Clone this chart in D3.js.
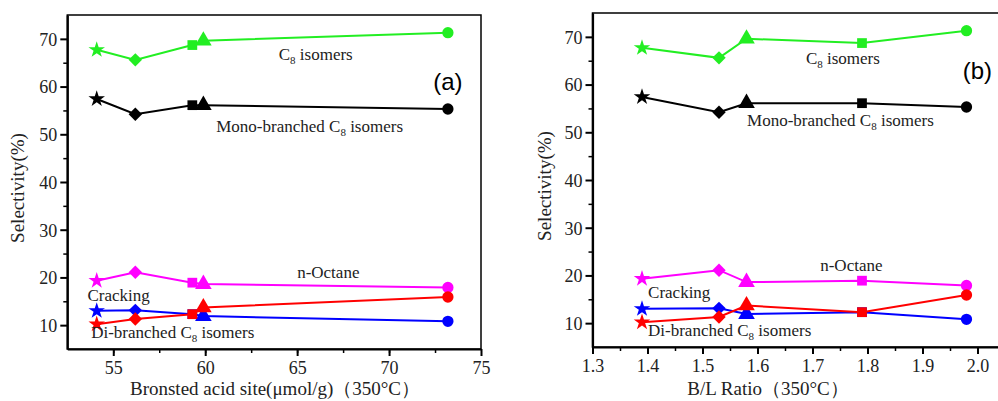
<!DOCTYPE html>
<html>
<head>
<meta charset="utf-8">
<script src="https://cdn.jsdelivr.net/npm/d3@7"></script>
<style>
  body { margin: 0; background: #fff; }
  svg { display: block; }
  svg text { font-family: "Liberation Serif", Tinos, "Times New Roman", "DejaVu Serif", serif; fill: #222; }
  svg text.panel-tag { font-family: "Liberation Sans", Arial, sans-serif; fill: #000; }
</style>
</head>
<body>
<div id="chart"></div>
<script>
// sample order: star, diamond, square, triangle, circle
const samples   = ["star", "diamond", "square", "triangle", "circle"];
const brønsted  = [54.1, 56.2, 59.3, 59.9, 73.2];   // panel (a) x
const blRatio   = [1.39, 1.53, 1.79, 1.58, 1.98];   // panel (b) x

const c8Isomers   = [67.7, 65.6, 68.7, 69.6, 71.3];
const monoBranch  = [57.4, 54.2, 56.1, 56.1, 55.3];
const nOctane     = [19.3, 21.1, 18.9, 18.6, 17.9];
const cracking    = [13.0, 13.1, 12.3, 11.9, 10.8];
const diBranch    = [10.2, 11.3, 12.3, 13.7, 15.9];

const seriesNames  = ["C8 isomers", "Mono-branched", "n-Octane", "Cracking", "Di-branched"];
const seriesValues = [c8Isomers, monoBranch, nOctane, cracking, diBranch];
const seriesColors = ["#22ee22", "#000000", "#ff00ff", "#0000ff", "#ff0000"];

const yTicks  = [10, 20, 30, 40, 50, 60, 70];
const xTicksA = [55, 60, 65, 70, 75];
const xTicksB = [1.3, 1.4, 1.5, 1.6, 1.7, 1.8, 1.9, 2.0];

// label text in data units: [x, y, main, sub, rest]
const labelsA = [
  [64.0, 65.6, "C", "8", " isomers"],
  [60.6, 50.5, "Mono-branched C", "8", " isomers"],
  [65.0, 19.9, "n-Octane", "", ""],
  [53.6, 15.1, "Cracking", "", ""],
  [53.8, 7.3, "Di-branched C", "8", " isomers"]
];
const labelsB = [
  [1.688, 64.3, "C", "8", " isomers"],
  [1.581, 51.3, "Mono-branched C", "8", " isomers"],
  [1.714, 20.9, "n-Octane", "", ""],
  [1.401, 15.3, "Cracking", "", ""],
  [1.401, 7.3, "Di-branched C", "8", " isomers"]
];

const W = 998, H = 401;
const svg = d3.select("#chart").append("svg").attr("width", W).attr("height", H);

const symbolFor = {
  star: d3.symbol().type(d3.symbolStar).size(85),
  diamond: d3.symbol().type(d3.symbolSquare).size(90),
  square: d3.symbol().type(d3.symbolSquare).size(95),
  triangle: d3.symbol().type(d3.symbolTriangle).size(120),
  circle: d3.symbol().type(d3.symbolCircle).size(100)
};

function drawPanel(opt) {
  const x = d3.scaleLinear().domain(opt.xDomain).range(opt.xRange);
  const y = d3.scaleLinear().domain([5, 75]).range(opt.yRange);
  const g = svg.append("g");

  // frame: top and right thinner
  g.append("rect")
    .attr("x", opt.xRange[0]).attr("y", opt.yRange[1])
    .attr("width", opt.xRange[1] - opt.xRange[0])
    .attr("height", opt.yRange[0] - opt.yRange[1])
    .attr("fill", "none").attr("stroke", "#000").attr("stroke-width", 1.5);

  // minor ticks
  const xMinor = opt.xMinor.filter(v => v > opt.xDomain[0] && v < opt.xDomain[1]);
  g.append("g")
    .attr("transform", `translate(0,${opt.yRange[0]})`)
    .call(d3.axisBottom(x).tickValues(xMinor).tickSize(4).tickFormat(""))
    .call(a => a.select(".domain").remove())
    .selectAll("line").attr("stroke-width", 1.5);
  g.append("g")
    .attr("transform", `translate(${opt.xRange[0]},0)`)
    .call(d3.axisLeft(y).tickValues([15, 25, 35, 45, 55, 65]).tickSize(4).tickFormat(""))
    .call(a => a.select(".domain").remove())
    .selectAll("line").attr("stroke-width", 1.5);

  // major axes
  const xa = g.append("g")
    .attr("transform", `translate(0,${opt.yRange[0]})`)
    .call(d3.axisBottom(x).tickValues(opt.xTicks).tickSize(7).tickSizeOuter(0)
      .tickFormat(opt.xFormat));
  xa.attr("font-family", null).attr("font-size", null);
  xa.select(".domain").attr("stroke-width", 2.2);
  xa.selectAll(".tick line").attr("stroke-width", 2);
  xa.selectAll(".tick text").attr("font-size", 18).attr("fill", "#222").attr("dy", "0.85em");

  const ya = g.append("g")
    .attr("transform", `translate(${opt.xRange[0]},0)`)
    .call(d3.axisLeft(y).tickValues(yTicks).tickSize(7).tickSizeOuter(0));
  ya.attr("font-family", null).attr("font-size", null);
  ya.select(".domain").attr("stroke-width", 2.2);
  ya.selectAll(".tick line").attr("stroke-width", 2);
  ya.selectAll(".tick text").attr("font-size", 18).attr("fill", "#222")
    .attr("x", -10).attr("dy", "0.35em");

  // series
  const line = d3.line().x(d => x(d[0])).y(d => y(d[1]));
  seriesValues.forEach((vals, si) => {
    const pts = opt.xs.map((xv, i) => [xv, vals[i], samples[i]]);
    const sorted = pts.slice().sort((a, b) => a[0] - b[0]);
    g.append("path").attr("d", line(sorted))
      .attr("fill", "none").attr("stroke", seriesColors[si]).attr("stroke-width", 2);
    g.selectAll(null).data(pts).enter().append("path")
      .attr("d", d => symbolFor[d[2]]())
      .attr("transform", d => `translate(${x(d[0])},${y(d[1])})` + (d[2] === "diamond" ? " rotate(45)" : ""))
      .attr("fill", seriesColors[si]);
  });

  // annotations
  opt.labels.forEach(l => {
    const t = g.append("text").attr("x", x(l[0])).attr("y", y(l[1])).attr("font-size", 17);
    t.append("tspan").text(l[2]);
    if (l[3]) {
      t.append("tspan").attr("font-size", 11).attr("dy", 4).text(l[3]);
      t.append("tspan").attr("dy", -4).text(l[4]);
    }
  });

  g.append("text").attr("class", "panel-tag")
    .attr("x", x(opt.tag[0])).attr("y", y(opt.tag[1]))
    .attr("font-size", 24).text(opt.tag[2]);

  // axis titles
  g.append("text")
    .attr("transform", `translate(${opt.yTitleX},${(opt.yRange[0] + opt.yRange[1]) / 2 + 6}) rotate(-90)`)
    .attr("text-anchor", "middle").attr("font-size", 19).text("Selectivity(%)");
  g.append("text")
    .attr("x", opt.xTitleX).attr("y", 395)
    .attr("text-anchor", "middle").attr("font-size", 19).text(opt.xTitle);
}

drawPanel({
  xDomain: [52.5, 75], xRange: [67.3, 481], yRange: [349, 15],
  xTicks: xTicksA, xMinor: d3.range(52.5, 75, 2.5), xFormat: d3.format("d"),
  xs: brønsted, labels: labelsA, tag: [72.4, 59.3, "(a)"],
  yTitleX: 24, xTitleX: 275,
  xTitle: "Bronsted acid site(\u03bcmol/g)\uff08350\u00b0C\uff09"
});

drawPanel({
  xDomain: [1.3, 2.05], xRange: [592.5, 1005], yRange: [347, 13],
  xTicks: xTicksB, xMinor: d3.range(1.35, 2.05, 0.1), xFormat: d3.format(".1f"),
  xs: blRatio, labels: labelsB, tag: [1.973, 61.2, "(b)"],
  yTitleX: 551, xTitleX: 768,
  xTitle: "B/L Ratio\uff08350\u00b0C\uff09"
});
</script>
</body>
</html>
